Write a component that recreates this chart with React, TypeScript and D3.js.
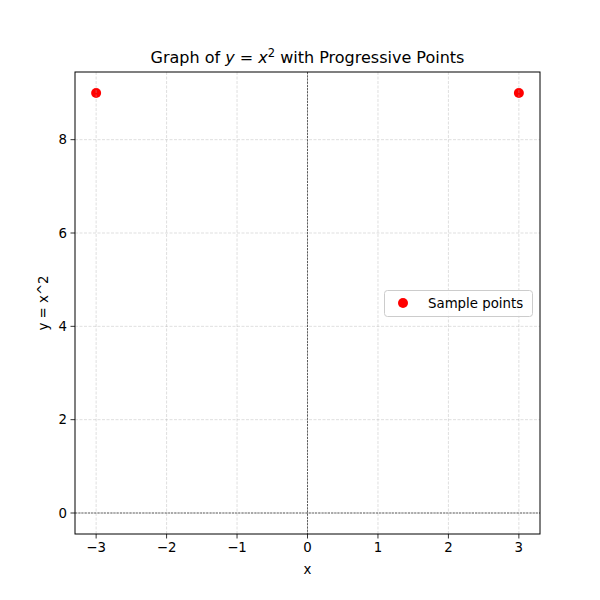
import React from "react";
import * as d3 from "d3";

const pointsX = [-3, 3];
const pointsY = [9, 9];
const xTicks = [-3, -2, -1, 0, 1, 2, 3];
const yTicks = [0, 2, 4, 6, 8];

export default function App() {
  const W = 600, H = 600;
  const L = 75, R = 540, T = 72, B = 534;
  const x = d3.scaleLinear().domain([-3.3, 3.3]).range([L, R]);
  const y = d3.scaleLinear().domain([-0.45, 9.45]).range([B, T]);
  const font = "DejaVu Sans, sans-serif";
  const fmt = (v: number) => (v < 0 ? "\u2212" + Math.abs(v) : String(v));
  return (
    <svg width={W} height={H} style={{ position: "absolute", left: 0, top: 0, background: "#fff" }} fontFamily={font}>
      <rect x={0} y={0} width={W} height={H} fill="#fff" />
      {pointsX.map((px, i) => (
        <circle key={i} cx={x(px)} cy={y(pointsY[i])} r={5} fill="#ff0000" />
      ))}
      {xTicks.map((t) => (
        <line key={"gx" + t} x1={x(t)} x2={x(t)} y1={T} y2={B} stroke="#b0b0b0" strokeOpacity={0.5} strokeWidth={0.8} strokeDasharray="3,1.5" />
      ))}
      {yTicks.map((t) => (
        <line key={"gy" + t} x1={L} x2={R} y1={y(t)} y2={y(t)} stroke="#b0b0b0" strokeOpacity={0.5} strokeWidth={0.8} strokeDasharray="3,1.5" />
      ))}
      <line x1={L} x2={R} y1={y(0)} y2={y(0)} stroke="#000" strokeWidth={0.6} strokeDasharray="2.2,1" />
      <line x1={x(0)} x2={x(0)} y1={T} y2={B} stroke="#000" strokeWidth={0.6} strokeDasharray="2.2,1" />
      <rect x={L} y={T} width={R - L} height={B - T} fill="none" stroke="#000" strokeWidth={1} />
      {xTicks.map((t) => (
        <g key={"tx" + t}>
          <line x1={x(t)} x2={x(t)} y1={B} y2={B + 4.5} stroke="#000" strokeWidth={0.8} />
          <text x={x(t)} y={B + 18} fontSize={13.33} textAnchor="middle">{fmt(t)}</text>
        </g>
      ))}
      {yTicks.map((t) => (
        <g key={"ty" + t}>
          <line x1={L - 4.5} x2={L} y1={y(t)} y2={y(t)} stroke="#000" strokeWidth={0.8} />
          <text x={L - 8} y={y(t) + 4.8} fontSize={13.33} textAnchor="end">{fmt(t)}</text>
        </g>
      ))}
      <text x={(L + R) / 2} y={574} fontSize={13.33} textAnchor="middle">x</text>
      <text transform={`translate(48,${(T + B) / 2}) rotate(-90)`} fontSize={13.33} textAnchor="middle">y = x^2</text>
      <text x={(L + R) / 2} y={63} fontSize={16} textAnchor="middle">
        Graph of <tspan fontStyle="italic">y</tspan> = <tspan fontStyle="italic">x</tspan>
        <tspan fontSize={11.5} dy={-6}>2</tspan>
        <tspan dy={6}> with Progressive Points</tspan>
      </text>
      <g>
        <rect x={384.5} y={290.5} width={148} height={26} rx={3} fill="#fff" fillOpacity={0.8} stroke="#cccccc" strokeWidth={1} />
        <circle cx={403} cy={303} r={5} fill="#ff0000" />
        <text x={428} y={308} fontSize={13.33}>Sample points</text>
      </g>
    </svg>
  );
}
